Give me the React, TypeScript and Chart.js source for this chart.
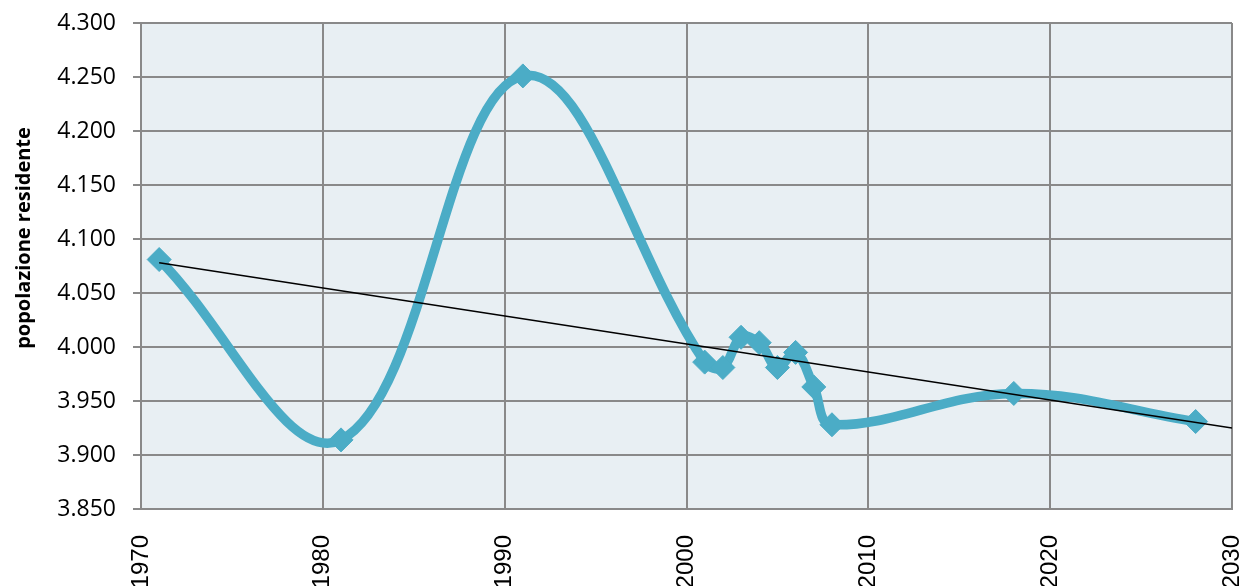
import React, { useEffect, useRef } from 'react';
import { Chart, registerables } from 'chart.js';

Chart.register(...registerables);

const years = [1971, 1981, 1991, 2001, 2002, 2003, 2004, 2005, 2006, 2007, 2008, 2018, 2028];
const population = [4081, 3914, 4251, 3986, 3981, 4009, 4004, 3981, 3995, 3963, 3928, 3957, 3931];
const trendYears = [1971, 2030];
const trendValues = [4078, 3925];
const yTitle = 'popolazione residente';

const formatIt = (v: number) => {
  const n = Math.round(v);
  const th = Math.floor(n / 1000);
  const rest = String(n % 1000).padStart(3, '0');
  return `${th}.${rest}`;
};

const GRID = '#898989';

const bgPlugin = {
  id: 'plotBg',
  beforeDraw(chart: any) {
    const { ctx, chartArea } = chart;
    if (!chartArea) return;
    ctx.save();
    ctx.fillStyle = '#E8EFF3';
    ctx.fillRect(chartArea.left, chartArea.top, chartArea.right - chartArea.left, chartArea.bottom - chartArea.top);
    ctx.restore();
  },
};

const titlePlugin = {
  id: 'yTitle',
  afterDraw(chart: any) {
    const { ctx } = chart;
    ctx.save();
    ctx.translate(24, 238);
    ctx.rotate(-Math.PI / 2);
    ctx.font = 'bold 20px "Open Sans", sans-serif';
    ctx.fillStyle = '#000000';
    ctx.textAlign = 'center';
    ctx.textBaseline = 'middle';
    ctx.fillText(yTitle, 0, 0);
    ctx.restore();
  },
};

export default function App() {
  const ref = useRef<HTMLCanvasElement | null>(null);
  useEffect(() => {
    document.body.style.margin = '0';
    const canvas = ref.current;
    if (!canvas) return;
    const chart = new Chart(canvas, {
      type: 'line',
      data: {
        datasets: [
          {
            label: 'tendenza',
            data: trendYears.map((x, i) => ({ x, y: trendValues[i] })),
            borderColor: '#000000',
            borderWidth: 1.5,
            pointRadius: 0,
            tension: 0,
            order: 0,
          },
          {
            label: 'popolazione',
            data: years.map((x, i) => ({ x, y: population[i] })),
            borderColor: '#4BACC6',
            backgroundColor: '#4BACC6',
            borderWidth: 9.5,
            pointStyle: 'rectRot',
            pointRadius: 12,
            pointBorderWidth: 1,
            pointBorderColor: '#4BACC6',
            pointBackgroundColor: '#4BACC6',
            tension: 0.38,
            order: 1,
          },
        ],
      },
      options: {
        animation: false,
        responsive: false,
        devicePixelRatio: 1,
        layout: { padding: { top: 23, right: 15, left: 0, bottom: 0 } },
        plugins: {
          legend: { display: false },
          tooltip: { enabled: false },
        },
        scales: {
          x: {
            type: 'linear',
            min: 1970,
            max: 2030,
            afterFit: (scale: any) => {
              scale.height = 77;
              scale.paddingLeft = 0;
              scale.paddingRight = 0;
            },
            ticks: {
              stepSize: 10,
              minRotation: 90,
              maxRotation: 90,
              padding: 26,
              color: '#000000',
              font: { family: '"Liberation Sans", Arial, sans-serif', size: 24 },
              callback: (v: any) => String(v),
            },
            grid: { color: GRID, lineWidth: 2, drawTicks: false },
            border: { color: GRID, width: 2 },
          },
          y: {
            type: 'linear',
            min: 3850,
            max: 4300,
            afterFit: (scale: any) => {
              scale.width = 141;
              scale.paddingTop = 0;
              scale.paddingBottom = 0;
            },
            ticks: {
              stepSize: 50,
              padding: 17,
              color: '#000000',
              font: { family: '"Open Sans", sans-serif', size: 23 },
              callback: (v: any) => formatIt(Number(v)),
            },
            grid: { color: GRID, lineWidth: 2, drawTicks: true, tickLength: 8 },
            border: { color: GRID, width: 2 },
          },
        },
      },
      plugins: [bgPlugin, titlePlugin],
    });
    return () => chart.destroy();
  }, []);
  return (
    <div style={{ position: 'absolute', left: 0, top: 0, width: 1247, height: 586 }}>
      <canvas ref={ref} width={1247} height={586} style={{ width: 1247, height: 586, display: 'block' }} />
    </div>
  );
}
